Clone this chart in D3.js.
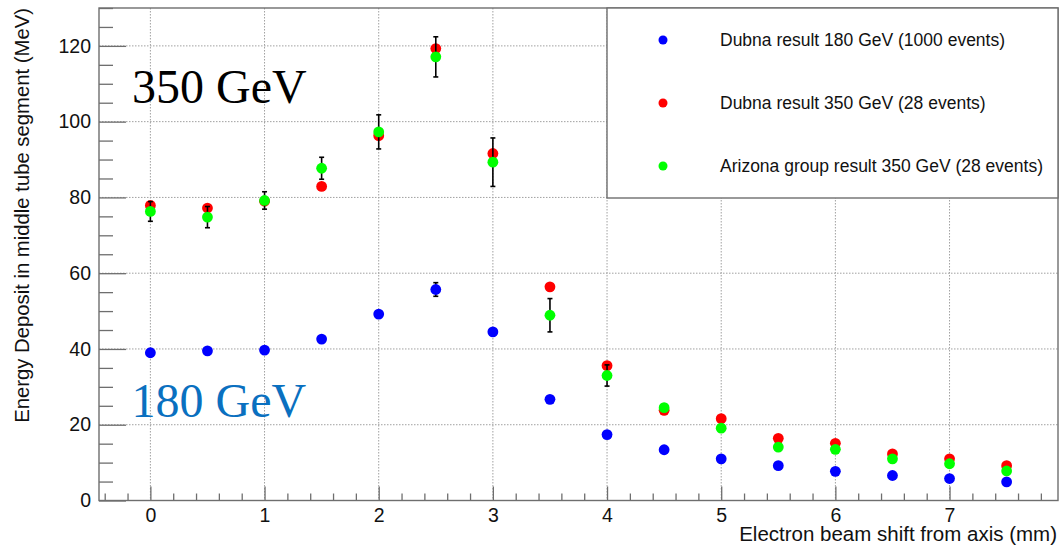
<!DOCTYPE html>
<html>
<head>
<meta charset="utf-8">
<script src="https://cdn.jsdelivr.net/npm/d3@7"></script>
<style>
  html, body { margin: 0; padding: 0; background: #fff; }
  svg { display: block; }
</style>
</head>
<body>
<svg id="chart" width="1060" height="546"></svg>
<script>
// Beam shift positions (mm)
const shifts = [0, 0.5, 1, 1.5, 2, 2.5, 3, 3.5, 4, 4.5, 5, 5.5, 6, 6.5, 7, 7.5];

// Dubna, 180 GeV (1000 events)
const dubna180 = [39.0, 39.5, 39.7, 42.6, 49.2, 55.7, 44.5, 26.7, 17.4, 13.4, 11.0, 9.2, 7.7, 6.6, 5.8, 4.9];
const dubna180Err = [0.8, 0.8, 0.8, 0.8, 0.8, 1.8, 0.8, 0.8, 0.6, 0.6, 0.5, 0.5, 0.5, 0.5, 0.5, 0.5];

// Dubna, 350 GeV (28 events)
const dubna350 = [77.9, 77.2, 79.0, 82.9, 96.3, 119.3, 91.6, 56.4, 35.6, 23.8, 21.6, 16.4, 15.1, 12.3, 11.0, 9.2];

// Arizona group, 350 GeV (28 events)
const arizona350 = [76.3, 74.8, 79.2, 87.7, 97.3, 117.1, 89.3, 48.9, 33.0, 24.5, 19.1, 14.1, 13.5, 11.0, 9.7, 7.8];
const arizona350Err = [2.6, 2.8, 2.3, 2.9, 4.5, 5.3, 6.4, 4.4, 2.8, 0.9, 0.9, 0.8, 0.8, 0.7, 0.7, 0.7];

const yTicks = [0, 20, 40, 60, 80, 100, 120];
const xTicks = [0, 1, 2, 3, 4, 5, 6, 7];

const legendLabels = [
  "Dubna result 180 GeV (1000 events)",
  "Dubna result 350 GeV (28 events)",
  "Arizona group result 350 GeV (28 events)"
];
const seriesColors = ["#0000ff", "#ff0000", "#00ff00"];

const svg = d3.select("#chart");
const frame = { left: 99, top: 8, right: 1058, bottom: 500.5 };
const W = frame.right - frame.left, H = frame.bottom - frame.top;

const x = d3.scaleLinear().domain([-0.45, 7.95]).range([0, W]);
const y = d3.scaleLinear().domain([0, 130]).range([H, 0]);

const g = svg.append("g").attr("transform", `translate(${frame.left},${frame.top})`);

const axisColor = "#6e6e6e";
const sans = "'Liberation Sans', Arial, Helvetica, sans-serif";

// Dotted grid at major ticks
g.append("g").selectAll("line").data(xTicks).join("line")
  .attr("x1", d => x(d)).attr("x2", d => x(d)).attr("y1", 0).attr("y2", H)
  .attr("stroke", "#a0a0a0").attr("stroke-width", 1).attr("stroke-dasharray", "1.5,1.5");
g.append("g").selectAll("line").data(yTicks.filter(v => v > 0)).join("line")
  .attr("x1", 0).attr("x2", W).attr("y1", d => y(d)).attr("y2", d => y(d))
  .attr("stroke", "#a0a0a0").attr("stroke-width", 1).attr("stroke-dasharray", "1.5,1.5");

// Y axis: inward ticks (major every 20, minor every 5)
const yAxis = d3.axisLeft(y).tickValues(yTicks).tickSize(-27).tickFormat(d3.format("d"));
const yMinor = d3.axisLeft(y).tickValues(d3.range(0, 131, 5).filter(v => v % 20 !== 0)).tickSize(-14).tickFormat("");
const yg = g.append("g").call(yAxis);
const ygm = g.append("g").call(yMinor);

// X axis: inward ticks (major every 1, minor every 0.2)
const xAxis = d3.axisBottom(x).tickValues(xTicks).tickSize(-14).tickFormat(d3.format("d"));
const minorX = d3.range(-4, 80, 2).map(v => v / 10).filter(v => Math.abs(v - Math.round(v)) > 1e-6);
const xMinor = d3.axisBottom(x).tickValues(minorX).tickSize(-7).tickFormat("");
const xg = g.append("g").attr("transform", `translate(0,${H})`).call(xAxis);
const xgm = g.append("g").attr("transform", `translate(0,${H})`).call(xMinor);

[yg, ygm, xg, xgm].forEach(a => {
  a.select(".domain").remove();
  a.selectAll(".tick line").attr("stroke", axisColor).attr("stroke-width", 1.3);
  a.selectAll(".tick text").attr("fill", "#111").style("font-family", sans).style("font-size", "19.5px");
});
// Labels sit just outside the frame
yg.selectAll(".tick text").attr("x", -8);
xg.selectAll(".tick text").attr("y", 8);

// Frame
g.append("rect").attr("x", 0).attr("y", 0).attr("width", W).attr("height", H)
  .attr("fill", "none").attr("stroke", axisColor).attr("stroke-width", 1.4);

// Annotations
g.append("text").attr("x", x(-0.16)).attr("y", y(104.8))
  .style("font-family", "'Liberation Serif', 'Times New Roman', serif").style("font-size", "48px")
  .attr("fill", "#000").text("350 GeV");
g.append("text").attr("x", x(-0.165)).attr("y", y(22))
  .style("font-family", "'Liberation Serif', 'Times New Roman', serif").style("font-size", "48px")
  .attr("fill", "#0a70c0").text("180 GeV");

const r = 5.4;
function errorBars(vals, errs) {
  const eg = g.append("g").attr("stroke", "#000").attr("stroke-width", 1.6);
  shifts.forEach((s, i) => {
    const cx = x(s), y1 = y(vals[i] - errs[i]), y2 = y(vals[i] + errs[i]);
    eg.append("line").attr("x1", cx).attr("x2", cx).attr("y1", y1).attr("y2", y2);
    eg.append("line").attr("x1", cx - 2.5).attr("x2", cx + 2.5).attr("y1", y1).attr("y2", y1);
    eg.append("line").attr("x1", cx - 2.5).attr("x2", cx + 2.5).attr("y1", y2).attr("y2", y2);
  });
}
function markers(vals, color) {
  g.append("g").selectAll("circle").data(vals).join("circle")
    .attr("cx", (d, i) => x(shifts[i])).attr("cy", d => y(d)).attr("r", r).attr("fill", color);
}

errorBars(dubna180, dubna180Err);
markers(dubna180, seriesColors[0]);
markers(dubna350, seriesColors[1]);
errorBars(arizona350, arizona350Err);
markers(arizona350, seriesColors[2]);

// Legend box
const lg = svg.append("g");
lg.append("rect").attr("x", 607).attr("y", 8).attr("width", 1058 - 607).attr("height", 190)
  .attr("fill", "#fff").attr("stroke", axisColor).attr("stroke-width", 1.4);
legendLabels.forEach((t, i) => {
  const cy = 40 + i * 63;
  lg.append("circle").attr("cx", 663).attr("cy", cy).attr("r", 4.5).attr("fill", seriesColors[i]);
  lg.append("text").attr("x", 720).attr("y", cy + 6.3)
    .style("font-family", sans).style("font-size", "17.5px").attr("fill", "#111").text(t);
});

// Axis titles
svg.append("text").attr("x", 1057).attr("y", 541).attr("text-anchor", "end")
  .style("font-family", sans).style("font-size", "20.5px").attr("fill", "#111")
  .text("Electron beam shift from axis (mm)");
svg.append("text").attr("transform", "translate(29,8) rotate(-90)").attr("text-anchor", "end")
  .style("font-family", sans).style("font-size", "20.3px").attr("fill", "#111")
  .text("Energy Deposit in middle tube segment (MeV)");
</script>
</body>
</html>
